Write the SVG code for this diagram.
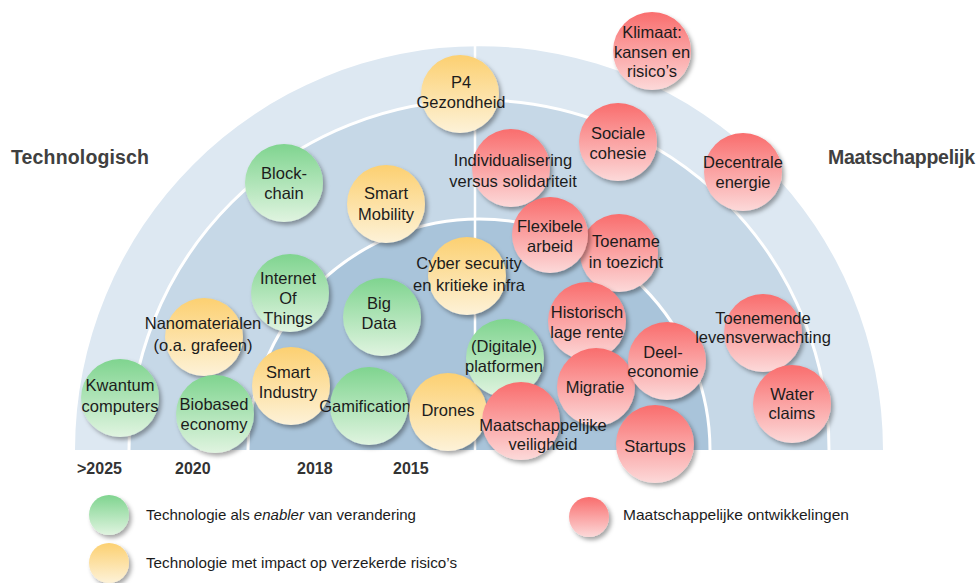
<svg xmlns="http://www.w3.org/2000/svg" width="980" height="583" viewBox="0 0 980 583">
<defs>
<linearGradient id="gG" x1="0" y1="0" x2="0" y2="1"><stop offset="0" stop-color="#7fd48f"/><stop offset="1" stop-color="#e0f4e0"/></linearGradient>
<linearGradient id="gY" x1="0" y1="0" x2="0" y2="1"><stop offset="0" stop-color="#fcd071"/><stop offset="1" stop-color="#fdf2d8"/></linearGradient>
<linearGradient id="gR" x1="0" y1="0" x2="0" y2="1"><stop offset="0" stop-color="#f96d6d"/><stop offset="1" stop-color="#fcd9d9"/></linearGradient>
<filter id="sh" x="-30%" y="-30%" width="170%" height="170%"><feDropShadow dx="2.5" dy="3" stdDeviation="2" flood-color="#000" flood-opacity="0.35"/></filter>
<style>
.n text{font-family:"Liberation Sans",Arial,sans-serif;font-size:16.5px;fill:#1c1c1c;text-anchor:middle}
.g{fill:url(#gG);filter:url(#sh)}
.y{fill:url(#gY);filter:url(#sh)}
.r{fill:url(#gR);filter:url(#sh)}
.hd{font-family:"Liberation Sans",Arial,sans-serif;font-size:19.5px;font-weight:bold;fill:#404040}
.yr{font-family:"Liberation Sans",Arial,sans-serif;font-size:16px;font-weight:bold;fill:#333}
.lg{font-family:"Liberation Sans",Arial,sans-serif;font-size:14.5px;fill:#1c1c1c}
.wl{fill:none;stroke:#fff;stroke-width:3}
</style>
</defs>
<rect width="980" height="583" fill="#fff"/>
<g id="bands">
<path d="M75,450 A404,404 0 0 1 883,450 Z" fill="#dde8f2"/>
<path d="M129,450 A350,350 0 0 1 829,450 Z" fill="#c6d8e7"/>
<path d="M248,450 A231,231 0 0 1 710,450 Z" fill="#a9c4da"/>
<path class="wl" d="M129,450 A350,350 0 0 1 829,450"/>
<path class="wl" d="M248,450 A231,231 0 0 1 710,450"/>
<line x1="475" y1="46" x2="475" y2="450" stroke="#fff" stroke-width="2.5"/>
</g>
<g id="headings">
<text class="hd" x="11" y="164" textLength="138">Technologisch</text>
<text class="hd" x="828" y="164" textLength="147">Maatschappelijk</text>
<text class="yr" x="77" y="474">&gt;2025</text>
<text class="yr" x="175" y="474">2020</text>
<text class="yr" x="297" y="474">2018</text>
<text class="yr" x="393" y="474">2015</text>
</g>
<g id="nodes">
<g id="klimaat" class="n"><circle class="r" cx="652" cy="51" r="39"/><text x="652" y="38">Klimaat:</text><text x="652" y="58">kansen en</text><text x="652" y="77">risico’s</text></g>
<g id="p4" class="n"><circle class="y" cx="460" cy="94" r="39"/><text x="461" y="88">P4</text><text x="461" y="108">Gezondheid</text></g>
<g id="sociale" class="n"><circle class="r" cx="618" cy="142" r="39"/><text x="618" y="139">Sociale</text><text x="618" y="159">cohesie</text></g>
<g id="decentrale" class="n"><circle class="r" cx="743" cy="172" r="39"/><text x="743" y="168">Decentrale</text><text x="743" y="188">energie</text></g>
<g id="individualisering" class="n"><circle class="r" cx="511" cy="168" r="39"/><text x="513" y="166">Individualisering</text><text x="513" y="187">versus solidariteit</text></g>
<g id="blockchain" class="n"><circle class="g" cx="284" cy="183" r="39"/><text x="284" y="179">Block-</text><text x="284" y="199">chain</text></g>
<g id="smartmobility" class="n"><circle class="y" cx="386" cy="204" r="39"/><text x="386" y="199">Smart</text><text x="386" y="220">Mobility</text></g>
<g id="toename" class="n"><circle class="r" cx="619" cy="253" r="39"/><text x="626" y="247">Toename</text><text x="626" y="268">in toezicht</text></g>
<g id="flexibele" class="n"><circle class="r" cx="550" cy="235" r="38"/><text x="550" y="232">Flexibele</text><text x="550" y="252">arbeid</text></g>
<g id="cyber" class="n"><circle class="y" cx="467" cy="276" r="39"/><text x="469" y="269">Cyber security</text><text x="469" y="291">en kritieke infra</text></g>
<g id="internet" class="n"><circle class="g" cx="290" cy="293" r="39"/><text x="288" y="284">Internet</text><text x="288" y="304">Of</text><text x="288" y="324">Things</text></g>
<g id="bigdata" class="n"><circle class="g" cx="382" cy="317" r="39"/><text x="379" y="309">Big</text><text x="379" y="329">Data</text></g>
<g id="nanomaterialen" class="n"><circle class="y" cx="204" cy="337" r="39"/><text x="203" y="329">Nanomaterialen</text><text x="203" y="351">(o.a. grafeen)</text></g>
<g id="historisch" class="n"><circle class="r" cx="587" cy="321" r="39"/><text x="587" y="318">Historisch</text><text x="587" y="338">lage rente</text></g>
<g id="migratie" class="n"><circle class="r" cx="596" cy="387" r="39"/><text x="595" y="393">Migratie</text></g>
<g id="deel" class="n"><circle class="r" cx="667" cy="361" r="39"/><text x="663" y="358">Deel-</text><text x="663" y="377">economie</text></g>
<g id="toenemende" class="n"><circle class="r" cx="763" cy="333" r="39"/><text x="763" y="324">Toenemende</text><text x="763" y="343">levensverwachting</text></g>
<g id="water" class="n"><circle class="r" cx="792" cy="404" r="39"/><text x="792" y="400">Water</text><text x="792" y="419">claims</text></g>
<g id="kwantum" class="n"><circle class="g" cx="120" cy="398" r="39"/><text x="120" y="391">Kwantum</text><text x="120" y="412">computers</text></g>
<g id="biobased" class="n"><circle class="g" cx="215" cy="414" r="39"/><text x="214" y="410">Biobased</text><text x="214" y="430">economy</text></g>
<g id="smartindustry" class="n"><circle class="y" cx="291" cy="386" r="39"/><text x="288" y="378">Smart</text><text x="288" y="398">Industry</text></g>
<g id="gamification" class="n"><circle class="g" cx="369" cy="406" r="39"/><text x="365" y="412">Gamification</text></g>
<g id="drones" class="n"><circle class="y" cx="448" cy="412" r="39"/><text x="448" y="416">Drones</text></g>
<g id="digitale" class="n"><circle class="g" cx="505" cy="358" r="39"/><text x="504" y="352">(Digitale)</text><text x="504" y="372">platformen</text></g>
<g id="maatschappelijke" class="n"><circle class="r" cx="521" cy="421" r="39"/><text x="543" y="431">Maatschappelijke</text><text x="543" y="450">veiligheid</text></g>
<g id="startups" class="n"><circle class="r" cx="655" cy="444" r="39"/><text x="655" y="452">Startups</text></g>
</g>
<g id="legend">
<g id="legend-green"><ellipse class="g" cx="109" cy="515" rx="20" ry="20"/><text class="lg" x="146" y="520" textLength="270" lengthAdjust="spacingAndGlyphs">Technologie als <tspan font-style="italic">enabler</tspan> van verandering</text></g>
<g id="legend-yellow"><ellipse class="y" cx="109" cy="563" rx="20" ry="20"/><text class="lg" x="146" y="568" textLength="311" lengthAdjust="spacingAndGlyphs">Technologie met impact op verzekerde risico’s</text></g>
<g id="legend-red"><ellipse class="r" cx="589" cy="517" rx="20" ry="20"/><text class="lg" x="623" y="520" textLength="226" lengthAdjust="spacingAndGlyphs">Maatschappelijke ontwikkelingen</text></g>
</g>
</svg>
